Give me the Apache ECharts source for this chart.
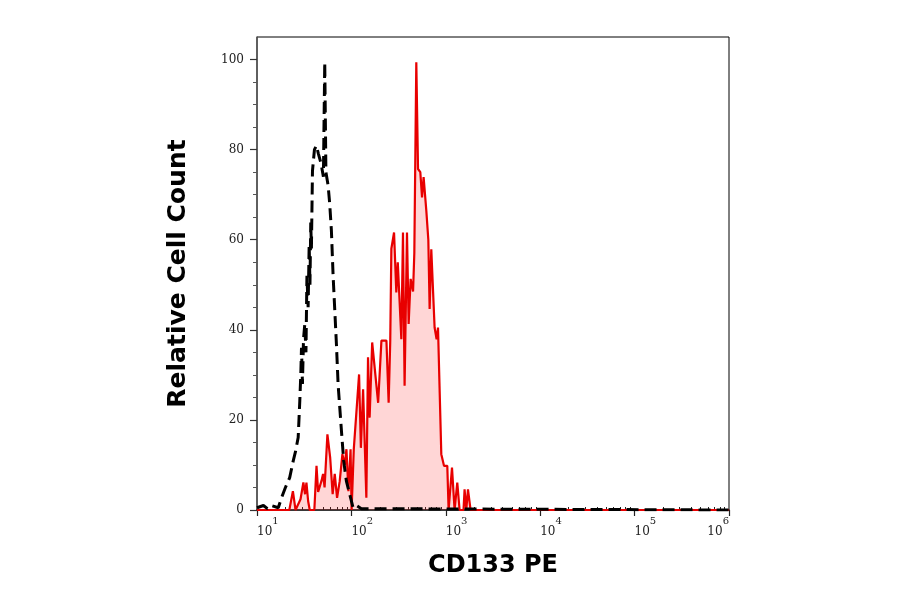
<!DOCTYPE html>
<html>
<head>
<meta charset="utf-8">
<script src="https://cdn.jsdelivr.net/npm/echarts@6/dist/echarts.min.js"></script>
<style>
  html, body { margin: 0; padding: 0; background: #fff; }
  #chart { width: 900px; height: 594px; }
</style>
</head>
<body>
<div id="chart"></div>
<script>
// CD133 PE channel values and relative counts
const stainedX = [10, 22, 24, 25.6, 28.9, 31, 32.3, 33.4, 34.8, 36.2, 40.5, 42.7, 44.4, 48.1, 50.1, 52, 55.7, 59.6, 63.3, 66.6, 70.5, 75.2, 80.3, 85, 88.6, 93, 98, 100.5, 106, 110, 120.6, 126, 133, 144, 150, 156, 166, 192, 208, 235, 248, 258, 265, 283, 299, 310, 324, 338, 352, 366, 388, 404, 424, 450, 464, 487, 508, 537, 560, 582, 622, 653, 674, 702, 761, 799, 827, 896, 957, 1037, 1071, 1163, 1239, 1323, 1400, 1540, 1581, 1648, 1718, 1830, 1000000];
const stainedY = [0, 0, 4.2, 0, 2.4, 6.1, 3.5, 6.1, 2, 0, 0, 9.8, 4, 6.4, 8, 5, 16.8, 11.6, 3.5, 8, 2.7, 6.4, 12.4, 10, 13.5, 4.2, 13.5, 0, 13.5, 13.5, 30.1, 13.8, 26.8, 2.7, 33.9, 20.5, 37.2, 23.8, 37.6, 37.6, 23.8, 37.6, 58, 61.6, 48.3, 55, 54.6, 37.9, 61.6, 27.6, 61.6, 41.3, 51.3, 48.5, 57, 99.4, 75.7, 75, 69.4, 73.9, 66.4, 60, 44.6, 57.9, 40.5, 37.9, 40.5, 12.4, 9.8, 9.8, 0, 9.4, 0, 6.1, 0, 0, 4.6, 0, 4.6, 0, 0];

// isotype control
const controlX = [10, 11.7, 12.9, 14.2, 16.8, 18.2, 20, 22.2, 24.2, 25.6, 27.3, 28.4, 29.1, 29.6, 30.3, 31.1, 32.1, 33, 33.8, 34.8, 35.7, 36.4, 37.1, 37.7, 38.7, 40.6, 42.6, 44.8, 47.6, 50.5, 52.2, 53.7, 56.7, 58.9, 61.4, 64, 69.4, 72.3, 78.4, 82.9, 88.5, 95.9, 104.2, 113, 127.6, 1000000];
const controlY = [0.5, 1, 0.3, 1, 0.5, 2.7, 5, 7.2, 10.9, 13, 16.1, 24.2, 30.1, 36, 28, 38, 41.3, 35, 52, 45, 59, 50, 63.8, 58, 75.3, 80, 80.9, 79, 77, 74, 99.4, 75, 72, 68, 62, 52, 36.8, 27.9, 17.6, 10.9, 6.4, 3.5, 0.5, 1, 0.3, 0];

const yLabels = [0, 20, 40, 60, 80, 100];
const yMinor = [5, 10, 15, 25, 30, 35, 45, 50, 55, 65, 70, 75, 85, 90, 95];
const xMinor = [];
[10, 100, 1000, 10000, 100000].forEach((d) => {
  for (let k = 2; k <= 9; k++) xMinor.push(d * k);
});

const chart = echarts.init(document.getElementById('chart'));

const option = {
  animation: false,
  grid: {
    left: 257,
    right: 171,
    top: 37,
    bottom: 84,
    show: true,
    borderColor: '#000',
    borderWidth: 1
  },
  xAxis: [
    {
      type: 'log',
      logBase: 10,
      min: 10,
      max: 1000000,
      name: 'CD133 PE',
      nameLocation: 'middle',
      nameGap: 44,
      nameTextStyle: { fontFamily: 'DejaVu Sans', fontWeight: 'bold', fontSize: 24, color: '#000' },
      axisLine: { lineStyle: { color: '#222', width: 1.5 } },
      axisTick: { length: 6, lineStyle: { color: '#222', width: 1.2 } },
      splitLine: { show: false },
      axisLabel: {
        margin: 6,
        align: 'left',
        alignMaxLabel: 'right',
        formatter: (v) => '{b|10}{s|' + Math.round(Math.log10(v)) + '}',
        rich: {
          b: { fontFamily: 'DejaVu Serif', fontSize: 12, color: '#222', lineHeight: 22, verticalAlign: 'bottom' },
          s: { fontFamily: 'DejaVu Serif', fontSize: 10, color: '#222', lineHeight: 12, verticalAlign: 'top' }
        }
      }
    },
    {
      type: 'log',
      logBase: 10,
      min: 10,
      max: 1000000,
      axisLine: { show: false },
      axisLabel: { show: false },
      splitLine: { show: false },
      axisTick: { length: 3, customValues: xMinor, lineStyle: { color: '#222', width: 1 } }
    }
  ],
  yAxis: [
    {
      type: 'value',
      min: 0,
      max: 105,
      name: 'Relative Cell Count',
      nameLocation: 'middle',
      nameGap: 66,
      nameTextStyle: { fontFamily: 'DejaVu Sans', fontWeight: 'bold', fontSize: 25, color: '#000' },
      axisLine: { show: true, lineStyle: { color: '#555', width: 1.5 } },
      axisTick: { show: true, length: 7, customValues: yLabels, lineStyle: { color: '#333', width: 1.2 } },
      splitLine: { show: false },
      axisLabel: {
        margin: 13,
        customValues: yLabels,
        fontFamily: 'DejaVu Serif',
        fontSize: 12,
        color: '#222'
      }
    },
    {
      type: 'value',
      min: 0,
      max: 105,
      position: 'left',
      axisLine: { show: false },
      axisLabel: { show: false },
      splitLine: { show: false },
      axisTick: { show: true, length: 4, customValues: yMinor, lineStyle: { color: '#555', width: 1 } }
    }
  ],
  series: [
    {
      name: 'CD133 PE',
      type: 'line',
      showSymbol: false,
      z: 2,
      data: stainedX.map((x, i) => [x, stainedY[i]]),
      lineStyle: { color: '#e80000', width: 2.2 },
      areaStyle: { color: 'rgba(255, 30, 30, 0.26)' }
    },
    {
      name: 'Isotype control',
      type: 'line',
      showSymbol: false,
      z: 3,
      data: controlX.map((x, i) => [x, controlY[i]]),
      lineStyle: { color: '#000', width: 3, type: [12, 6] }
    }
  ]
};

chart.setOption(option);
</script>
</body>
</html>
